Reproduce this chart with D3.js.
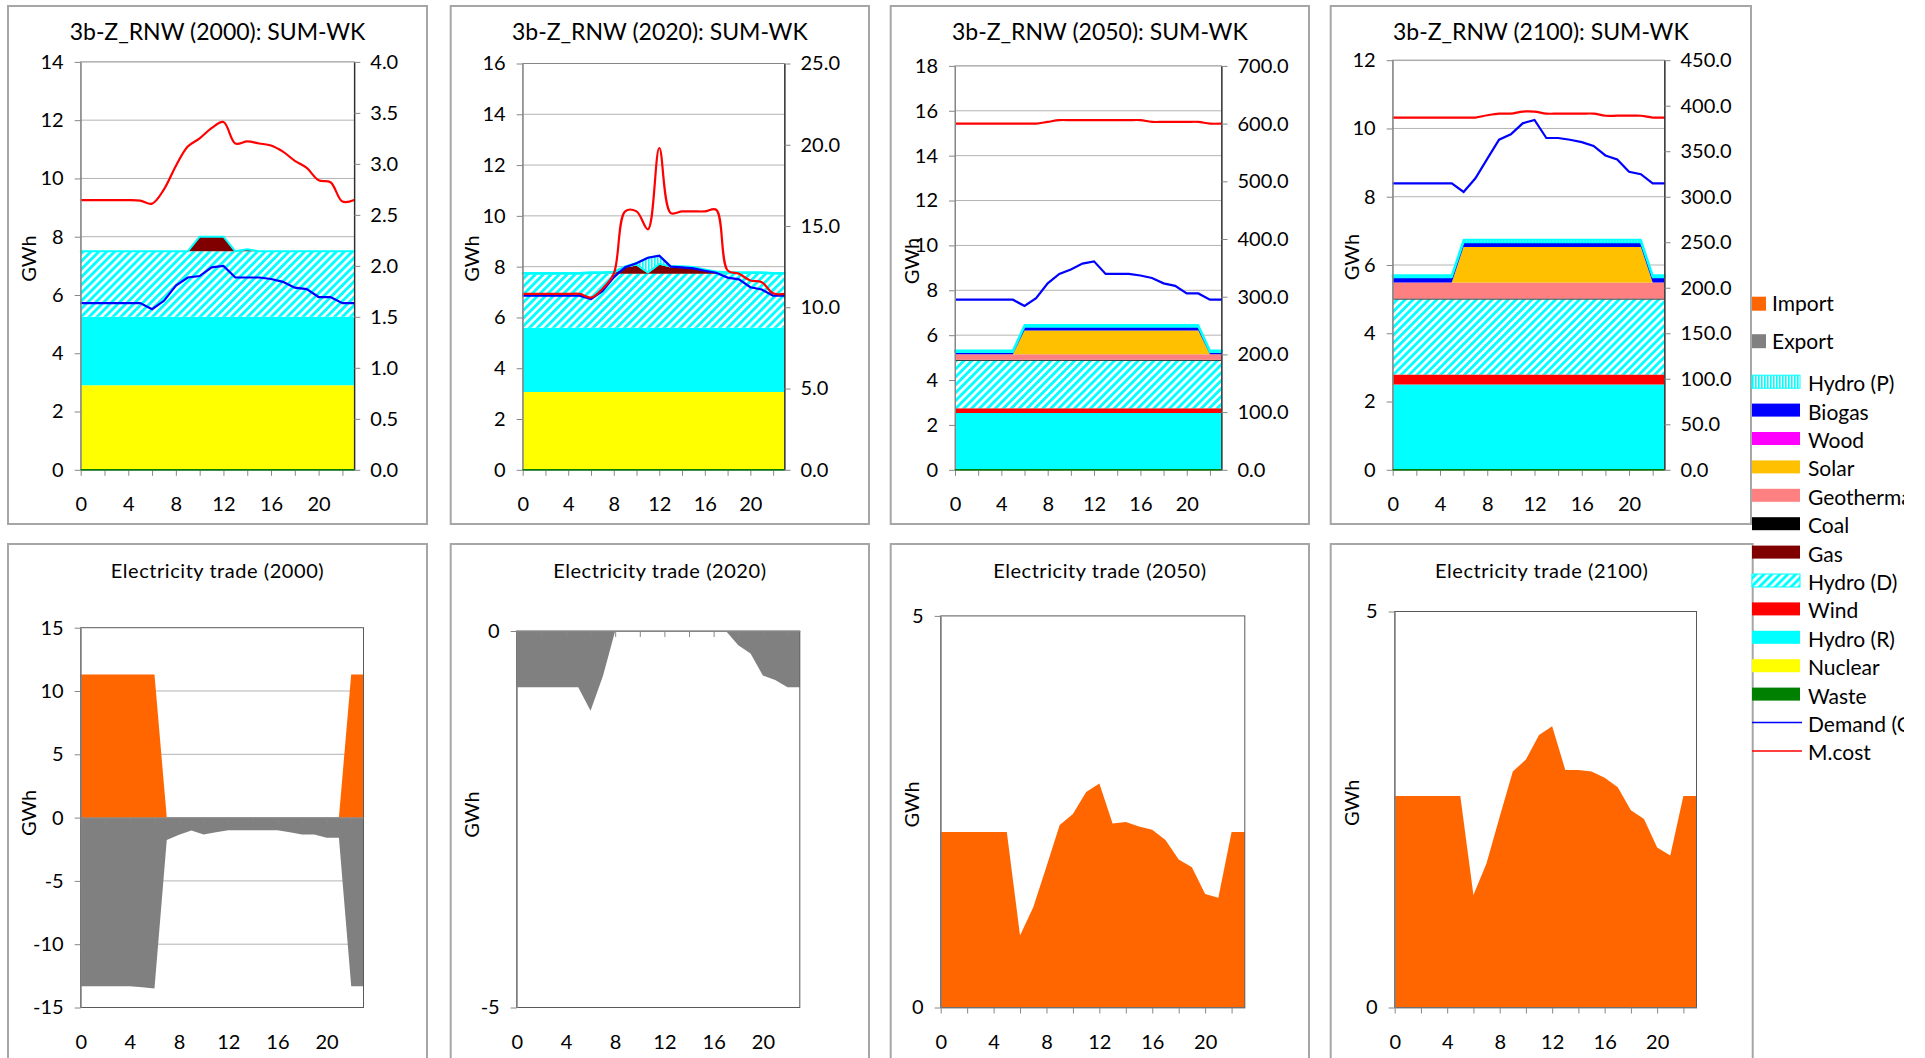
<!DOCTYPE html>
<html><head><meta charset="utf-8">
<script src="https://cdn.jsdelivr.net/npm/d3@7"></script>
<style>
body{margin:0;background:#fff}
svg{display:block;background:#fff}
text{font-family:Lato,"Open Sans",sans-serif}
</style>
</head><body>
<svg id="chart" width="1925" height="1058"></svg>
<script>
// ---------------- DATA ----------------
const hours = [0,1,2,3,4,5,6,7,8,9,10,11,12,13,14,15,16,17,18,19,20,21,22,23];
const years = ["2000","2020","2050","2100"];
const zeros = [0,0,0,0,0,0,0,0,0,0,0,0,0,0,0,0,0,0,0,0,0,0,0,0];

// axis tick labels
const leftTicks = [[0,2,4,6,8,10,12,14],[0,2,4,6,8,10,12,14,16],[0,2,4,6,8,10,12,14,16,18],[0,2,4,6,8,10,12]];
const rightTicks = [[0,0.5,1,1.5,2,2.5,3,3.5,4],[0,5,10,15,20,25],[0,100,200,300,400,500,600,700],[0,50,100,150,200,250,300,350,400,450]];
const hourTickMarks = [0,2,4,6,8,10,12,14,16,18,20,22];
const hourTickLabels = [0,4,8,12,16,20];
const tradeTicks = [[-15,-10,-5,0,5,10,15],[-5,0],[0,5],[0,5]];

// 2000 generation (GWh)
const nuclear2000 = [2.9,2.9,2.9,2.9,2.9,2.9,2.9,2.9,2.9,2.9,2.9,2.9,2.9,2.9,2.9,2.9,2.9,2.9,2.9,2.9,2.9,2.9,2.9,2.9];
const hydroR2000  = [2.35,2.35,2.35,2.35,2.35,2.35,2.35,2.35,2.35,2.35,2.35,2.35,2.35,2.35,2.35,2.35,2.35,2.35,2.35,2.35,2.35,2.35,2.35,2.35];
const hydroD2000  = [2.25,2.25,2.25,2.25,2.25,2.25,2.25,2.25,2.25,2.25,2.25,2.25,2.25,2.25,2.25,2.25,2.25,2.25,2.25,2.25,2.25,2.25,2.25,2.25];
const gas2000     = [0,0,0,0,0,0,0,0,0,0,0.5,0.5,0.5,0,0.07,0,0,0,0,0,0,0,0,0];
const demand2000  = [5.72,5.72,5.72,5.72,5.72,5.72,5.51,5.8,6.32,6.6,6.65,6.95,7.0,6.6,6.6,6.6,6.55,6.45,6.25,6.2,5.93,5.93,5.72,5.72];
const mcost2000   = [2.645,2.645,2.645,2.645,2.645,2.64,2.61,2.75,2.98,3.17,3.25,3.35,3.41,3.2,3.22,3.2,3.18,3.12,3.03,2.96,2.84,2.82,2.63,2.645];

// 2020
const nuclear2020 = [3.06,3.06,3.06,3.06,3.06,3.06,3.06,3.06,3.06,3.06,3.06,3.06,3.06,3.06,3.06,3.06,3.06,3.06,3.06,3.06,3.06,3.06,3.06,3.06];
const hydroR2020  = [2.53,2.53,2.53,2.53,2.53,2.53,2.53,2.53,2.53,2.53,2.53,2.53,2.53,2.53,2.53,2.53,2.53,2.53,2.53,2.53,2.53,2.53,2.53,2.53];
const hydroD2020  = [2.13,2.13,2.13,2.13,2.13,2.13,2.13,2.13,2.13,2.13,2.13,2.13,2.13,2.13,2.13,2.13,2.13,2.13,2.13,2.13,2.13,2.13,2.13,2.13];
const gas2020     = [0,0,0,0,0,0,0,0,0.02,0.25,0.33,0.02,0.36,0.25,0.25,0.22,0.12,0.03,0,0,0,0,0,0];
const solar2020   = [0,0,0,0,0,0,0.03,0.03,0.03,0.03,0.03,0.03,0.03,0.03,0.03,0.03,0.03,0.03,0.03,0.03,0.03,0.03,0,0];
const hydroP2020  = [0.03,0.03,0.03,0.03,0.03,0.03,0.03,0.03,0.03,0.01,0.07,0.58,0.32,0.02,0.02,0.02,0.02,0.03,0.03,0.03,0.03,0.03,0.03,0.03];
const demand2020  = [6.86,6.86,6.86,6.86,6.86,6.86,6.72,7.03,7.58,7.98,8.13,8.35,8.43,8.0,7.97,7.93,7.84,7.76,7.57,7.5,7.19,7.1,6.86,6.86];
const mcost2020   = [10.82,10.82,10.82,10.82,10.82,10.82,10.6,11.13,12.06,15.9,15.9,14.8,19.8,15.8,15.9,15.9,15.9,16.0,12.27,12.06,11.65,11.54,10.86,10.82];

// 2050
const hydroR2050  = [2.53,2.53,2.53,2.53,2.53,2.53,2.53,2.53,2.53,2.53,2.53,2.53,2.53,2.53,2.53,2.53,2.53,2.53,2.53,2.53,2.53,2.53,2.53,2.53];
const wind2050    = [0.21,0.21,0.21,0.21,0.21,0.21,0.21,0.21,0.21,0.21,0.21,0.21,0.21,0.21,0.21,0.21,0.21,0.21,0.21,0.21,0.21,0.21,0.21,0.21];
const hydroD2050  = [2.12,2.12,2.12,2.12,2.12,2.12,2.12,2.12,2.12,2.12,2.12,2.12,2.12,2.12,2.12,2.12,2.12,2.12,2.12,2.12,2.12,2.12,2.12,2.12];
const coal2050    = [0.04,0.04,0.04,0.04,0.04,0.04,0.04,0.04,0.04,0.04,0.04,0.04,0.04,0.04,0.04,0.04,0.04,0.04,0.04,0.04,0.04,0.04,0.04,0.04];
const geo2050     = [0.25,0.25,0.25,0.25,0.25,0.25,0.25,0.25,0.25,0.25,0.25,0.25,0.25,0.25,0.25,0.25,0.25,0.25,0.25,0.25,0.25,0.25,0.25,0.25];
const solar2050   = [0,0,0,0,0,0,1.06,1.06,1.06,1.06,1.06,1.06,1.06,1.06,1.06,1.06,1.06,1.06,1.06,1.06,1.06,1.06,0,0];
const biogas2050  = [0.1,0.1,0.1,0.1,0.1,0.1,0.17,0.17,0.17,0.17,0.17,0.17,0.17,0.17,0.17,0.17,0.17,0.17,0.17,0.17,0.17,0.17,0.1,0.1];
const hydroP2050  = [0.07,0.07,0.07,0.07,0.07,0.07,0.07,0.07,0.07,0.07,0.07,0.07,0.07,0.07,0.07,0.07,0.07,0.07,0.07,0.07,0.07,0.07,0.07,0.07];
const demand2050  = [7.58,7.58,7.58,7.58,7.58,7.58,7.3,7.65,8.31,8.73,8.93,9.19,9.29,8.73,8.73,8.73,8.66,8.55,8.31,8.2,7.86,7.86,7.58,7.58];
const mcost2050   = [600,600,600,600,600,600,600,600,603,606,606,606,606,606,606,606,606,603,603,603,603,603,600,600];

// 2100
const hydroR2100  = [2.5,2.5,2.5,2.5,2.5,2.5,2.5,2.5,2.5,2.5,2.5,2.5,2.5,2.5,2.5,2.5,2.5,2.5,2.5,2.5,2.5,2.5,2.5,2.5];
const wind2100    = [0.29,0.29,0.29,0.29,0.29,0.29,0.29,0.29,0.29,0.29,0.29,0.29,0.29,0.29,0.29,0.29,0.29,0.29,0.29,0.29,0.29,0.29,0.29,0.29];
const hydroD2100  = [2.2,2.2,2.2,2.2,2.2,2.2,2.2,2.2,2.2,2.2,2.2,2.2,2.2,2.2,2.2,2.2,2.2,2.2,2.2,2.2,2.2,2.2,2.2,2.2];
const coal2100    = [0.03,0.03,0.03,0.03,0.03,0.03,0.03,0.03,0.03,0.03,0.03,0.03,0.03,0.03,0.03,0.03,0.03,0.03,0.03,0.03,0.03,0.03,0.03,0.03];
const geo2100     = [0.47,0.47,0.47,0.47,0.47,0.47,0.47,0.47,0.47,0.47,0.47,0.47,0.47,0.47,0.47,0.47,0.47,0.47,0.47,0.47,0.47,0.47,0.47,0.47];
const solar2100   = [0,0,0,0,0,0,1.04,1.04,1.04,1.04,1.04,1.04,1.04,1.04,1.04,1.04,1.04,1.04,1.04,1.04,1.04,1.04,0,0];
const biogas2100  = [0.15,0.15,0.15,0.15,0.15,0.15,0.14,0.14,0.14,0.14,0.14,0.14,0.14,0.14,0.14,0.14,0.14,0.14,0.14,0.14,0.14,0.14,0.15,0.15];
const hydroP2100  = [0.06,0.06,0.06,0.06,0.06,0.06,0.07,0.07,0.07,0.07,0.07,0.07,0.07,0.07,0.07,0.07,0.07,0.07,0.07,0.07,0.07,0.07,0.06,0.06];
const demand2100  = [8.39,8.39,8.39,8.39,8.39,8.39,8.14,8.54,9.11,9.67,9.83,10.15,10.25,9.72,9.72,9.67,9.6,9.49,9.21,9.09,8.73,8.66,8.39,8.39];
const mcost2100   = [387,387,387,387,387,387,387,387,389.5,391.3,391.3,393.6,393.6,391.3,391.3,391.3,391.3,391.3,389,389,389,389,387,387];

// Electricity trade (GWh)
const import2000 = [11.3,11.3,11.3,11.3,11.3,11.3,11.3,0,0,0,0,0,0,0,0,0,0,0,0,0,0,0,11.3,11.3];
const export2000 = [-13.33,-13.33,-13.33,-13.33,-13.33,-13.4,-13.5,-1.76,-1.36,-1.01,-1.33,-1.15,-1.0,-1.0,-1.0,-1.0,-1.0,-1.15,-1.33,-1.33,-1.6,-1.6,-13.33,-13.33];
const export2020 = [-0.747,-0.747,-0.747,-0.747,-0.747,-0.747,-1.06,-0.6,0,0,0,0,0,0,0,0,0,0,-0.19,-0.3,-0.59,-0.65,-0.747,-0.747];
const import2050 = [2.24,2.24,2.24,2.24,2.24,2.24,0.92,1.28,1.8,2.33,2.47,2.75,2.86,2.35,2.37,2.31,2.27,2.14,1.89,1.79,1.45,1.40,2.24,2.24];
const import2100 = [2.67,2.67,2.67,2.67,2.67,2.67,1.42,1.82,2.41,2.98,3.13,3.44,3.55,3.0,3.0,2.98,2.9,2.78,2.49,2.38,2.02,1.92,2.67,2.67];

const legendNames = ["Import","Export","Hydro (P)","Biogas","Wood","Solar","Geothermal","Coal","Gas","Hydro (D)","Wind","Hydro (R)","Nuclear","Waste","Demand (GWh)","M.cost"];

// ---------------- TABLES BUILT FROM THE ARRAYS ----------------
const stackKeys = ["waste","nuclear","hydroR","wind","hydroD","gas","coal","geo","solar","wood","biogas","hydroP"];
const gen = [
  {waste:zeros,nuclear:nuclear2000,hydroR:hydroR2000,wind:zeros,hydroD:hydroD2000,gas:gas2000,coal:zeros,geo:zeros,solar:zeros,wood:zeros,biogas:zeros,hydroP:zeros},
  {waste:zeros,nuclear:nuclear2020,hydroR:hydroR2020,wind:zeros,hydroD:hydroD2020,gas:gas2020,coal:zeros,geo:zeros,solar:solar2020,wood:zeros,biogas:zeros,hydroP:hydroP2020},
  {waste:zeros,nuclear:zeros,hydroR:hydroR2050,wind:wind2050,hydroD:hydroD2050,gas:zeros,coal:coal2050,geo:geo2050,solar:solar2050,wood:zeros,biogas:biogas2050,hydroP:hydroP2050},
  {waste:zeros,nuclear:zeros,hydroR:hydroR2100,wind:wind2100,hydroD:hydroD2100,gas:zeros,coal:coal2100,geo:geo2100,solar:solar2100,wood:zeros,biogas:biogas2100,hydroP:hydroP2100}
];
const demand = [demand2000,demand2020,demand2050,demand2100];
const mcost = [mcost2000,mcost2020,mcost2050,mcost2100];
const imports = [import2000,zeros,import2050,import2100];
const exportsT = [export2000,export2020,zeros,zeros];

// ---------------- STYLE / LAYOUT ----------------
const fills = {waste:"#008000",nuclear:"#FFFF00",hydroR:"#00FFFF",wind:"#FF0000",hydroD:"url(#hatchD)",gas:"#800000",coal:"#000000",geo:"#FF8080",solar:"#FFC000",wood:"#FF00FF",biogas:"#0000FF",hydroP:"url(#hatchP)"};
const legendStyle = [
  {t:"sq",f:"#FF6600"},{t:"sq",f:"#808080"},
  {t:"r",f:"url(#hatchP)",s:"#00FFFF"},{t:"r",f:"#0000FF"},{t:"r",f:"#FF00FF"},{t:"r",f:"#FFC000"},
  {t:"r",f:"#FF8080"},{t:"r",f:"#000000"},{t:"r",f:"#800000"},{t:"r",f:"url(#hatchD)",s:"#00FFFF"},
  {t:"r",f:"#FF0000"},{t:"r",f:"#00FFFF"},{t:"r",f:"#FFFF00"},{t:"r",f:"#008000"},
  {t:"l",f:"#0000FF"},{t:"l",f:"#FF0000"}
];
const topLayout = [
  {bx0:8,bx1:427,l:80.7,r:354.3,t:61.9,b:469.8,gx:28.3,gy:258.6},
  {bx0:450.7,bx1:869,l:522.7,r:784.5,t:63.5,b:469.8,gx:471.7,gy:258.6},
  {bx0:890.7,bx1:1309,l:955,r:1221.5,t:65.9,b:469.8,gx:911.7,gy:261},
  {bx0:1330.7,bx1:1751,l:1392.7,r:1664.5,t:60.2,b:469.8,gx:1351.7,gy:257}
];
const botLayout = [
  {bx0:8,bx1:427,l:80.7,r:363.5,t:627.7,b:1007.5,gx:29,gy:812.9},
  {bx0:450.7,bx1:869,l:516.7,r:799.8,t:631,b:1007.5,gx:471.7,gy:814.5},
  {bx0:890.7,bx1:1309,l:940.7,r:1244.8,t:615.9,b:1007.5,gx:911.7,gy:804.4},
  {bx0:1330.7,bx1:1752.7,l:1394.7,r:1696.5,t:611.5,b:1007.5,gx:1351.7,gy:802.8}
];
const FONT = "Lato, 'Open Sans', sans-serif";
const GRID = "#b3b3b3", AXIS = "#868686", BOX = "#a6a6a6";

const svg = d3.select("#chart");
const defs = svg.append("defs");
const pD = defs.append("pattern").attr("id","hatchD").attr("width",5.6).attr("height",5.6)
  .attr("patternUnits","userSpaceOnUse").attr("patternTransform","rotate(45)");
pD.append("rect").attr("width",5.6).attr("height",5.6).attr("fill","#fff");
pD.append("rect").attr("width",2.9).attr("height",5.6).attr("fill","#00FFFF");
const pP = defs.append("pattern").attr("id","hatchP").attr("width",3).attr("height",3).attr("patternUnits","userSpaceOnUse");
pP.append("rect").attr("width",3).attr("height",3).attr("fill","#fff");
pP.append("rect").attr("width",1.6).attr("height",3).attr("fill","#00FFFF");
defs.append("clipPath").attr("id","legendClip").append("rect")
  .attr("x",1740).attr("y",0).attr("width",164).attr("height",1058);

function styleAxis(g, domainColor, size) {
  g.attr("font-family", FONT).attr("font-size", size || 20);
  g.selectAll("text").attr("fill","#000");
  g.selectAll("line").attr("stroke", AXIS);
  g.select(".domain").attr("stroke", domainColor || AXIS);
}

function gwhLabel(g, x, y) {
  g.append("text").attr("transform",`translate(${x},${y}) rotate(-90)`)
    .attr("text-anchor","middle").attr("dy","0.36em")
    .attr("font-family",FONT).attr("font-size",20).text("GWh");
}

// ---------------- TOP PANELS ----------------
years.forEach((yr, i) => {
  const L = topLayout[i];
  const g = svg.append("g");
  g.append("rect").attr("x",L.bx0).attr("y",6).attr("width",L.bx1-L.bx0).attr("height",518)
    .attr("fill","#fff").attr("stroke",BOX).attr("stroke-width",2);
  g.append("text").attr("x",(L.bx0+L.bx1)/2).attr("y",40).attr("text-anchor","middle")
    .attr("font-family",FONT).attr("font-size",23).text(`3b-Z_RNW (${yr}): SUM-WK`);

  const lt = leftTicks[i], rt = rightTicks[i];
  const x = d3.scaleLinear().domain([0,23]).range([L.l,L.r]);
  const y = d3.scaleLinear().domain([0,lt[lt.length-1]]).range([L.b,L.t]);
  const y2 = d3.scaleLinear().domain([0,rt[rt.length-1]]).range([L.b,L.t]);

  // gridlines
  g.append("g").selectAll("line").data(lt.slice(1,-1)).join("line")
    .attr("x1",L.l).attr("x2",L.r).attr("y1",d=>y(d)).attr("y2",d=>y(d))
    .attr("stroke",GRID).attr("stroke-width",1);

  // stacked generation
  const rows = hours.map((h,j)=>{const o={hour:h}; stackKeys.forEach(k=>o[k]=gen[i][k][j]); return o;});
  const series = d3.stack().keys(stackKeys)(rows);
  const area = d3.area().x(d=>x(d.data.hour)).y0(d=>y(d[0])).y1(d=>y(d[1]));
  g.append("g").selectAll("path").data(series).join("path")
    .attr("d",area).attr("fill",s=>fills[s.key])
    .attr("stroke",s=>s.key==="hydroP"?"#00FFFF":"none")
    .attr("stroke-width",s=>s.key==="hydroP"?2:0)
    .attr("stroke-linejoin","round");

  // plot frame
  g.append("rect").attr("x",L.l).attr("y",L.t).attr("width",L.r-L.l).attr("height",L.b-L.t)
    .attr("fill","none").attr("stroke",AXIS).attr("stroke-width",1);

  // lines
  const dLine = d3.line().x((d,j)=>x(hours[j])).y(d=>y(d));
  g.append("path").attr("d",dLine(demand[i])).attr("fill","none").attr("stroke","#0000FF").attr("stroke-width",2.2);
  const mLine = d3.line().x((d,j)=>x(hours[j])).y(d=>y2(d)).curve(d3.curveCatmullRom.alpha(0.5));
  g.append("path").attr("d",mLine(mcost[i])).attr("fill","none").attr("stroke","#FF0000").attr("stroke-width",2.2);

  // axes
  const ax = g.append("g").attr("transform",`translate(${L.l},0)`)
    .call(d3.axisLeft(y).tickValues(lt).tickFormat(d=>String(d)).tickSize(6).tickPadding(11).tickSizeOuter(0));
  styleAxis(ax);
  const ax2 = g.append("g").attr("transform",`translate(${L.r},0)`)
    .call(d3.axisRight(y2).tickValues(rt).tickFormat(d=>d.toFixed(1)).tickSize(6).tickPadding(10).tickSizeOuter(0));
  styleAxis(ax2,"#000");
  const axb = g.append("g").attr("transform",`translate(0,${L.b})`)
    .call(d3.axisBottom(x).tickValues(hourTickMarks).tickFormat("").tickSize(6).tickSizeOuter(0));
  styleAxis(axb);
  const axl = g.append("g").attr("transform",`translate(0,${L.b})`)
    .call(d3.axisBottom(x).tickValues(hourTickLabels).tickFormat(d=>String(d)).tickSize(0).tickPadding(27.5));
  styleAxis(axl); axl.select(".domain").remove();

  // waste (zero) line
  const wLine = d3.line().x(d=>x(d.data.hour)).y(d=>y(d[1]));
  g.append("path").attr("d",wLine(series[0])).attr("fill","none").attr("stroke","#008000").attr("stroke-width",1.5);

  gwhLabel(g, L.gx, L.gy);
});

// ---------------- BOTTOM PANELS (trade) ----------------
years.forEach((yr, i) => {
  const L = botLayout[i];
  const g = svg.append("g");
  g.append("rect").attr("x",L.bx0).attr("y",544).attr("width",L.bx1-L.bx0).attr("height",540)
    .attr("fill","#fff").attr("stroke",BOX).attr("stroke-width",2);
  g.append("text").attr("x",(L.bx0+L.bx1)/2).attr("y",577.5).attr("text-anchor","middle")
    .attr("font-family",FONT).attr("font-size",20).attr("letter-spacing",0.55).text(`Electricity trade (${yr})`);

  const tt = tradeTicks[i];
  const x = d3.scaleLinear().domain([0,23]).range([L.l,L.r]);
  const y = d3.scaleLinear().domain([tt[0],tt[tt.length-1]]).range([L.b,L.t]);

  g.append("g").selectAll("line").data(tt.slice(1,-1)).join("line")
    .attr("x1",L.l).attr("x2",L.r).attr("y1",d=>y(d)).attr("y2",d=>y(d))
    .attr("stroke",GRID).attr("stroke-width",1);

  const ar = d3.area().x((d,j)=>x(hours[j])).y0(y(0)).y1(d=>y(d));
  g.append("path").attr("d",ar(exportsT[i])).attr("fill","#808080");
  g.append("path").attr("d",ar(imports[i])).attr("fill","#FF6600");

  g.append("rect").attr("x",L.l).attr("y",L.t).attr("width",L.r-L.l).attr("height",L.b-L.t)
    .attr("fill","none").attr("stroke","#595959").attr("stroke-width",1);

  const ax = g.append("g").attr("transform",`translate(${L.l},0)`)
    .call(d3.axisLeft(y).tickValues(tt).tickFormat(d=>String(d)).tickSize(6).tickPadding(11).tickSizeOuter(0));
  styleAxis(ax);
  const axt = g.append("g").attr("transform",`translate(0,${y(0)})`)
    .call(d3.axisBottom(x).tickValues(hourTickMarks).tickFormat("").tickSize(6).tickSizeOuter(0));
  styleAxis(axt);
  const axl = g.append("g").attr("transform",`translate(0,${L.b})`)
    .call(d3.axisBottom(x).tickValues(hourTickLabels).tickFormat(d=>String(d)).tickSize(0).tickPadding(27.3));
  styleAxis(axl); axl.select(".domain").remove();

  gwhLabel(g, L.gx, L.gy);
});

// ---------------- LEGEND ----------------
const lg = svg.append("g").attr("font-family",FONT).attr("font-size",21).attr("clip-path","url(#legendClip)");
legendNames.forEach((name, i) => {
  const st = legendStyle[i];
  const cy = i < 2 ? 303.7 + i*37.5 : 381.7 + (i-2)*28.4;
  if (st.t === "sq") {
    lg.append("rect").attr("x",1752).attr("y",cy-7).attr("width",14).attr("height",14).attr("fill",st.f);
    lg.append("text").attr("x",1772).attr("y",cy).attr("dy","0.36em").text(name);
  } else if (st.t === "r") {
    lg.append("rect").attr("x",1752).attr("y",cy-6.5).attr("width",48).attr("height",13).attr("fill",st.f)
      .attr("stroke",st.s||"none").attr("stroke-width",st.s?1:0);
    lg.append("text").attr("x",1808).attr("y",cy+2).attr("dy","0.36em").text(name);
  } else {
    lg.append("line").attr("x1",1752).attr("x2",1802).attr("y1",cy).attr("y2",cy).attr("stroke",st.f).attr("stroke-width",1.5);
    lg.append("text").attr("x",1808).attr("y",cy+2).attr("dy","0.36em").text(name);
  }
});
</script>
</body></html>
